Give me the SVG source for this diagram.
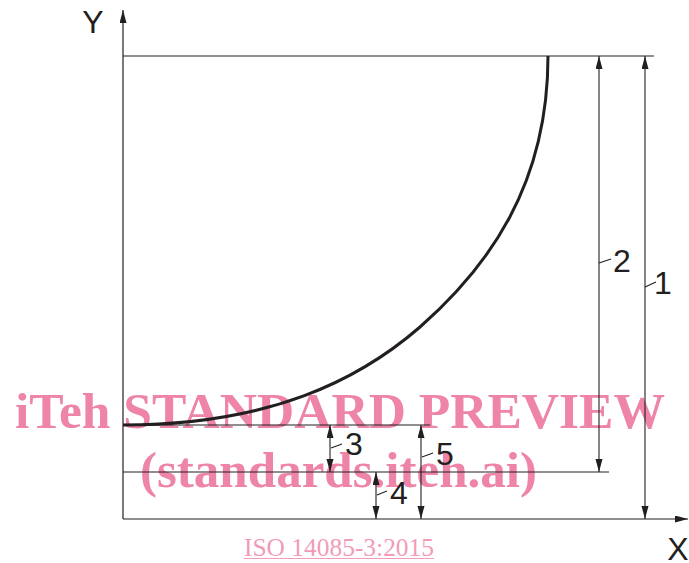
<svg xmlns="http://www.w3.org/2000/svg" width="689" height="563" viewBox="0 0 689 563">
<style>
.ln{stroke:#231f20;stroke-width:1.2;fill:none}
.dim{stroke:#231f20;stroke-width:1.1;fill:none}
.lbl{font-family:"Liberation Sans",Arial,sans-serif;font-size:32px;fill:#231f20}
.wm{font-family:"Liberation Serif","Times New Roman",serif;font-weight:bold;font-size:51px;fill:#ee84a8}
.iso{font-family:"Liberation Serif","Times New Roman",serif;font-size:25px;fill:#f29bb8}
</style>
<defs>
<marker id="ah" markerUnits="userSpaceOnUse" markerWidth="14" markerHeight="8" refX="13" refY="3.5" orient="auto-start-reverse">
<path d="M0,0 L13,3.5 L0,7 z" fill="#231f20"/>
</marker>
</defs>
<g id="watermark">
<text class="wm" x="15" y="428" textLength="650" lengthAdjust="spacingAndGlyphs">iTeh STANDARD PREVIEW</text>
<text class="wm" x="140" y="487" textLength="397" lengthAdjust="spacingAndGlyphs">(standards.iteh.ai)</text>
<text class="iso" x="244" y="556" textLength="190" lengthAdjust="spacingAndGlyphs">ISO 14085-3:2015</text>
<line x1="244" y1="558.5" x2="434" y2="558.5" stroke="#f29bb8" stroke-width="1.2"/>
</g>
<g id="axes">
<line class="ln" x1="123" y1="519" x2="123" y2="10" marker-end="url(#ah)"/>
<line class="ln" x1="123" y1="519" x2="688" y2="519" marker-end="url(#ah)"/>
<text class="lbl" x="93" y="33" text-anchor="middle">Y</text>
<text class="lbl" x="678" y="560" text-anchor="middle">X</text>
</g>
<g id="reference-lines">
<line class="ln" x1="123" y1="56" x2="654" y2="56"/>
<line class="ln" x1="123" y1="472" x2="609" y2="472"/>
<line class="ln" x1="123" y1="425" x2="430" y2="425"/>
</g>
<g id="curve">
<path d="M123,425 C270,425 359,380 420,327 C487.5,267.6 548,186 548,56" fill="none" stroke="#231f20" stroke-width="3"/>
</g>
<g id="connectors">
<line class="dim" x1="599" y1="56" x2="599" y2="472" marker-start="url(#ah)" marker-end="url(#ah)"/>
<line class="dim" x1="645" y1="56" x2="645" y2="519" marker-start="url(#ah)" marker-end="url(#ah)"/>
<line class="dim" x1="330" y1="425" x2="330" y2="472" marker-start="url(#ah)" marker-end="url(#ah)"/>
<line class="dim" x1="376" y1="472" x2="376" y2="519" marker-start="url(#ah)" marker-end="url(#ah)"/>
<line class="dim" x1="421" y1="425" x2="421" y2="519" marker-start="url(#ah)" marker-end="url(#ah)"/>
<line class="dim" x1="599" y1="263" x2="611" y2="259"/>
<line class="dim" x1="645" y1="287" x2="656" y2="282"/>
<line class="dim" x1="331" y1="448" x2="342" y2="444"/>
<line class="dim" x1="422" y1="457" x2="433" y2="453"/>
<line class="dim" x1="377" y1="495" x2="387" y2="491"/>
</g>
<g id="label-1"><text class="lbl" x="654" y="294">1</text></g>
<g id="label-2"><text class="lbl" x="613" y="272">2</text></g>
<g id="label-3"><text class="lbl" x="345" y="455">3</text></g>
<g id="label-4"><text class="lbl" x="390" y="504">4</text></g>
<g id="label-5"><text class="lbl" x="436" y="465">5</text></g>
</svg>
